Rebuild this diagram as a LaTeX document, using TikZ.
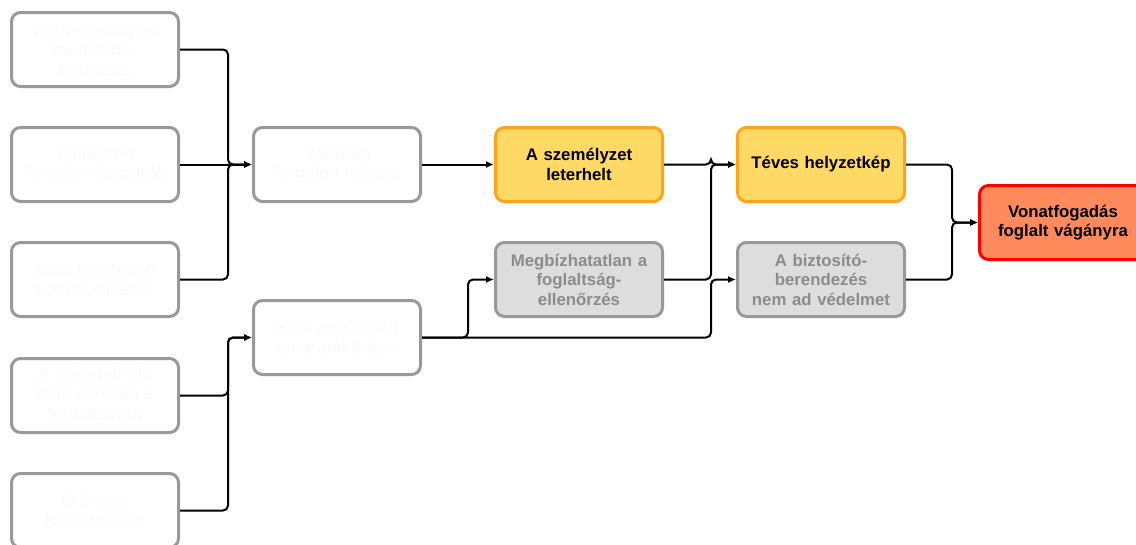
\documentclass[tikz,border=0pt]{standalone}
\usepackage{fontspec}
\setmainfont{Liberation Sans}
\usetikzlibrary{arrows.meta}
\definecolor{bordgray}{HTML}{999999}
\definecolor{fillgray}{HTML}{DDDDDD}
\definecolor{txtgray}{HTML}{8C8C8C}
\definecolor{faint}{HTML}{FBFBFB}
\definecolor{ofill}{HTML}{FFD966}
\definecolor{oborder}{HTML}{FFA31A}
\definecolor{rfill}{HTML}{FF8A5C}
\definecolor{rborder}{HTML}{FF0000}
\tikzset{
  box/.style={rectangle, rounded corners=9pt, line width=3pt, minimum width=167pt,
    minimum height=74pt, align=center, text width=155pt,
    font=\fontsize{16.8}{19.5}\selectfont\bfseries},
  wbox/.style={box, draw=bordgray, fill=white, text=faint},
  gbox/.style={box, draw=bordgray, fill=fillgray, text=txtgray},
  obox/.style={box, draw=oborder, fill=ofill, text=black},
  rbox/.style={box, draw=rborder, fill=rfill, text=black},
  edge/.style={line width=2pt, rounded corners=5pt, -{Latex[length=8pt,width=7pt]}}
}
\begin{document}
\begin{tikzpicture}[x=1pt,y=-1pt]
\useasboundingbox (0,0) rectangle (1136,544);
% left column
\node[wbox] (l1) at (95,49.5) {Nem szabályos\\munkaidő-\\beosztás};
\node[wbox] (l2) at (95,164.5) {Túlterhelt\\forgalomirányítók};
\node[wbox] (l3) at (95,279.5) {Nem megfelelő\\kommunikáció};
\node[wbox] (l4) at (95,395.5) {A szigetelt sín\\nem érzékeli a\\foglaltságot};
\node[wbox] (l5) at (95,510.5) {Hiányos\\karbantartás};
% middle column
\node[wbox] (mA) at (337,164.5) {Váratlan\\forgalmi helyzet};
\node[wbox] (mB) at (337,337.5) {Hiba a szigetelt\\sínáramkörben};
% third column
\node[obox] (sz) at (579,164.5) {A személyzet\\leterhelt};
\node[gbox] (mf) at (579,279.5) {Megbízhatatlan a\\foglaltság-\\ellenőrzés};
% fourth column
\node[obox] (th) at (821,164.5) {Téves helyzetkép};
\node[gbox] (bb) at (821,279.5) {A biztosító-\\berendezés\\nem ad védelmet};
% final
\node[rbox] (vf) at (1063,222.5) {Vonatfogadás\\foglalt vágányra};
% connectors
\draw[edge] (l1.east) -- ++(48,0) |- (mA.west);
\draw[edge] (l2.east) -- (mA.west);
\draw[edge] (l3.east) -- ++(48,0) |- (mA.west);
\draw[edge] (l4.east) -- ++(48,0) |- (mB.west);
\draw[edge] (l5.east) -- ++(48,0) |- (mB.west);
\draw[edge] (mA.east) -- (sz.west);
\draw[edge] (mB.east) -- ++(46,0) |- (mf.west);
\draw[edge] (mB.east) -- ++(289,0) |- (bb.west);
\draw[edge] (sz.east) -- ++(47,0) |- (th.west);
\draw[edge] (mf.east) -- ++(47,0) |- (th.west);
\draw[edge] (th.east) -- ++(46,0) |- (vf.west);
\draw[edge] (bb.east) -- ++(46,0) |- (vf.west);
\end{tikzpicture}
\end{document}
